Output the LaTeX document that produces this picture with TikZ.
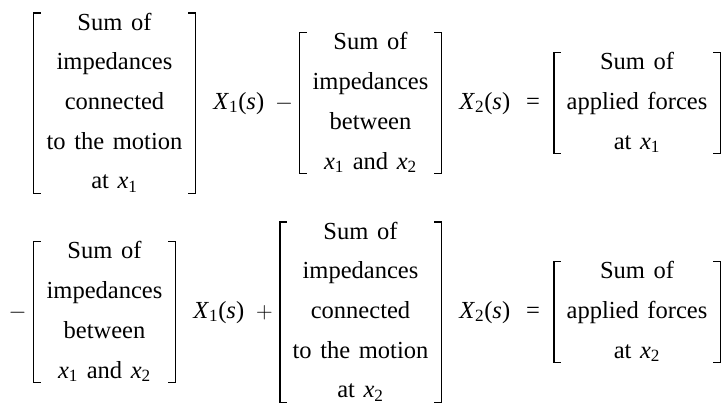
\documentclass[tikz,border=0pt]{standalone}
\usepackage{fontspec}
\setmainfont{Liberation Serif}
\tikzset{inner sep=0pt}
\newcommand\sub[2]{\textit{#1}\textsubscript{#2}}
\newcommand\ls{\rule[-8pt]{0pt}{28pt}}
\newcommand\eqfont{\fontsize{18.4pt}{29.8pt}\selectfont\spaceskip=0.35em plus 0.1em\relax}

\begin{document}
\begin{tikzpicture}[x=0.75pt,y=-0.75pt,
        font=\eqfont,
        block/.style={align=center,inner xsep=9.4pt,inner ysep=0pt},
        term/.style={anchor=base west},
        op/.style={anchor=base},
        brk/.style={line width=1pt}]
    \useasboundingbox (0,0) rectangle (727,407);
    % first equation
    \node[block] (b1) at (114.5,101.5) {\ls Sum of\\ \ls impedances\\ \ls connected\\ \ls to the motion\\ \ls at \sub{x}{1}};
    \node[term] (t1) at (213,109.5) {\sub{X}{1}(\textit{s})};
    \node[op] (o1) at (284,109.5) {$-$};
    \node[block] (b2) at (370.5,101.5) {\ls Sum of\\ \ls impedances\\ \ls between\\ \ls \sub{x}{1} and \sub{x}{2}};
    \node[term] (t2) at (459,109.5) {\sub{X}{2}(\textit{s})};
    \node[op] (o2) at (533,109.5) {=};
    \node[block] (b3) at (637,101.5) {\ls Sum of\\ \ls applied forces\\ \ls at \sub{x}{1}};
    % second equation
    \node[op] (o3) at (17.5,318.5) {$-$};
    \node[block] (b4) at (104.5,310.5) {\ls Sum of\\ \ls impedances\\ \ls between\\ \ls \sub{x}{1} and \sub{x}{2}};
    \node[term] (t3) at (193,318.5) {\sub{X}{1}(\textit{s})};
    \node[op] (o4) at (264.5,318.5) {$+$};
    \node[block] (b5) at (360.5,310.5) {\ls Sum of\\ \ls impedances\\ \ls connected\\ \ls to the motion\\ \ls at \sub{x}{2}};
    \node[term] (t4) at (459,318.5) {\sub{X}{2}(\textit{s})};
    \node[op] (o5) at (533,318.5) {=};
    \node[block] (b6) at (637,310.5) {\ls Sum of\\ \ls applied forces\\ \ls at \sub{x}{2}};
    % brackets
    \foreach \b in {b1,b2,b3,b4,b5,b6}{
        \draw[brk] ([xshift=5.25pt,yshift=-7.3pt]\b.north west) -- ([yshift=-7.3pt]\b.north west)
            -- ([yshift=5pt]\b.south west) -- ([xshift=5.25pt,yshift=5pt]\b.south west);
        \draw[brk] ([xshift=-5.25pt,yshift=-7.3pt]\b.north east) -- ([yshift=-7.3pt]\b.north east)
            -- ([yshift=5pt]\b.south east) -- ([xshift=-5.25pt,yshift=5pt]\b.south east);
    }
\end{tikzpicture}
\end{document}
